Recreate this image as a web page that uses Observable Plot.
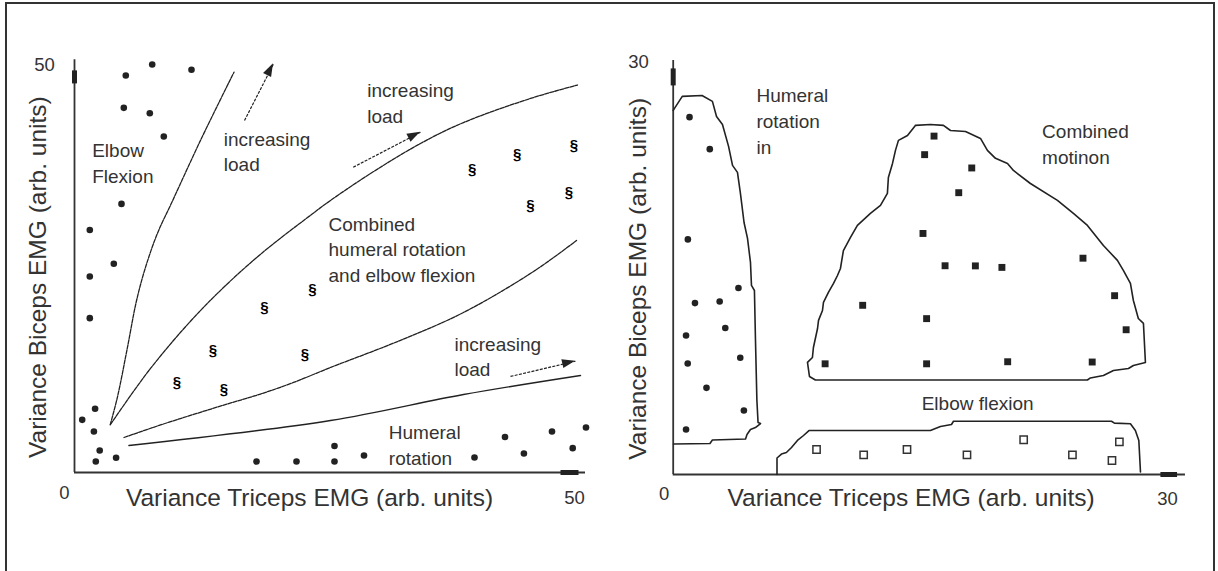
<!DOCTYPE html>
<html>
<head>
<meta charset="utf-8">
<script src="https://cdn.jsdelivr.net/npm/d3@7"></script>
<script src="https://cdn.jsdelivr.net/npm/@observablehq/plot@0.6"></script>
<style>
html, body { margin: 0; padding: 0; background: #fff; }
#wrap { position: relative; width: 1218px; height: 571px; overflow: hidden; background: #fff; }
#left { position: absolute; left: 0; top: 0; }
#right { position: absolute; left: 610px; top: 0; }
#frame { position: absolute; left: 5px; top: 2px; width: 1210px; height: 620px; border: 2.5px solid #333; box-sizing: border-box; pointer-events: none; }
</style>
</head>
<body>
<div id="wrap"><div id="left"></div><div id="right"></div><div id="frame"></div></div>
<script>
// ---------- LEFT PANEL DATA (arb. units, 0..50) ----------
const leftElbowFlexion = [[7.77,50.12],[11.7,49.47],[5.13,48.77],[4.93,44.8],[7.53,44.14],[8.93,41.28],[4.7,33.0],[1.53,29.8],[3.93,25.64],[1.53,24.08],[1.53,18.96]];
const leftLowLoad = [[0.77,6.47],[2.06,7.83],[1.94,5.04],[2.52,2.70],[2.13,1.35],[4.16,1.81]];
const leftHumeralRotation = [[18.2,1.35],[22.2,1.35],[26.0,3.26],[26.0,1.35],[28.95,2.09],[40.0,1.84],[43.05,4.36],[44.94,2.33],[47.75,5.04],[49.82,2.99],[51.15,5.53]];
const leftCombined = [[39.77,37.31],[44.27,39.15],[49.93,40.17],[45.6,32.8],[49.43,34.43],[19.0,20.3],[23.8,22.57],[13.85,14.99],[23.05,14.58],[10.25,11.14],[14.95,10.2]];

const boundaryElbow = [[3.57,5.86],[4.3,9.3],[5.3,15.4],[6.2,21.1],[7.1,25.2],[8.3,29.4],[9.7,33.1],[12.6,40.8],[15.95,49.18]];
const boundaryCombinedUpper = [[3.6,5.9],[7.6,12.78],[12.6,19.9],[18.1,26.29],[23.7,31.69],[25.6,33.42],[29.6,36.73],[34.6,40.42],[38.9,42.99],[45.6,45.95],[50.3,47.6]];
const boundaryCombinedLower = [[4.95,4.3],[8.6,5.84],[11.9,7.13],[15.3,8.42],[18.6,9.64],[21.9,11.06],[25.6,12.9],[32.3,16.09],[38.9,19.66],[45.9,24.69],[50.2,28.5]];
const boundaryHumeral = [[5.44,3.32],[25.6,6.39],[38.9,9.58],[50.6,11.92]];

const loadArrows = [
  {x1: 17.0, y1: 43.24, x2: 19.9, y2: 50.2},
  {x1: 27.87, y1: 37.5, x2: 34.6, y2: 41.8},
  {x1: 43.6, y1: 11.8, x2: 50.1, y2: 13.67}
];

const leftLabels = [
  {text: "Elbow\nFlexion", x: 1.77, y: 40.42},
  {text: "increasing\nload", x: 14.93, y: 41.83},
  {text: "increasing\nload", x: 29.27, y: 47.75},
  {text: "Combined\nhumeral rotation\nand elbow flexion", x: 25.4, y: 31.39},
  {text: "increasing\nload", x: 38.0, y: 16.62},
  {text: "Humeral\nrotation", x: 31.43, y: 5.77}
];

const leftXTicks = [50];
const leftYTicks = [50];
const leftOrigin = ["0"];
const leftAxisEnd = {x: 51.1, y: 50.7};
const leftAxisHead = {x: [48.6, 50.4], y: [47.8, 49.4]};
const leftXTitle = {text: "Variance Triceps EMG (arb. units)", x: 23.5};
const leftYTitle = {text: "Variance Biceps EMG (arb. units)", y: 24.0};

// ---------- RIGHT PANEL DATA (arb. units, 0..30) ----------
const rightHumeralIn = [[0.99,26.02],[2.22,23.69],[0.89,17.12],[3.96,13.58],[1.32,12.48],[2.82,12.6],[3.16,10.67],[0.78,10.12],[4.07,8.5],[0.88,8.08],[2.02,6.31],[4.29,4.66],[0.78,3.28]];
const rightCombined = [[15.83,24.64],[15.26,23.29],[18.12,22.32],[17.33,20.52],[15.16,17.55],[24.87,15.75],[16.5,15.2],[18.34,15.19],[19.95,15.08],[11.5,12.32],[15.38,11.35],[26.79,13.02],[27.49,10.54],[9.22,8.06],[15.38,8.06],[20.3,8.21],[25.43,8.19]];
const rightElbow = [[8.7,1.82],[11.56,1.43],[14.19,1.82],[17.83,1.43],[21.27,2.53],[24.23,1.43],[27.08,2.38],[26.63,1.02]];

const regionHumeralIn = [[0,26.51],[0.55,27.53],[1.75,27.60],[2.38,27.17],[2.63,26.07],[2.99,25.49],[3.36,23.89],[3.60,22.51],[3.90,22.0],[4.08,20.47],[4.30,18.35],[4.51,17.19],[4.69,15.44],[4.75,13.77],[4.93,13.40],[4.99,9.98],[5.08,5.39],[5.15,3.79],[5.30,3.71],[4.99,3.42],[4.69,3.28],[4.48,2.91],[4.39,2.59],[2.38,2.51],[2.23,2.26],[0.02,2.22]];
const regionCombined = [[14.70,25.42],[15.61,25.49],[16.40,25.42],[16.83,25.05],[17.74,24.98],[18.65,24.47],[19.07,23.60],[19.56,23.02],[20.29,22.65],[20.65,22.14],[21.68,21.19],[23.32,19.96],[24.29,19.01],[25.14,18.14],[26.11,16.68],[26.96,15.59],[27.32,14.86],[27.75,13.91],[27.93,12.67],[28.23,11.36],[28.54,11.00],[28.66,8.16],[27.93,7.94],[27.63,7.72],[26.72,7.57],[26.11,7.21],[25.32,7.03],[25.14,6.88],[8.63,6.88],[8.27,7.14],[8.15,8.16],[8.45,8.52],[8.51,9.25],[8.76,10.63],[8.82,11.22],[9.06,11.94],[9.12,12.53],[9.42,13.26],[9.73,13.91],[9.97,14.49],[10.15,15.0],[10.33,16.31],[10.76,17.26],[11.18,18.14],[11.97,19.01],[12.58,19.59],[13.00,20.47],[13.06,21.63],[13.31,22.65],[13.49,23.60],[13.67,24.33],[14.22,24.69],[14.70,25.42]];
const regionElbow = [[6.30,0],[6.30,1.20],[6.57,1.49],[6.87,1.60],[7.18,1.97],[7.54,2.48],[7.91,2.84],[8.24,3.20],[15.61,3.20],[16.22,3.50],[16.89,3.64],[17.01,3.88],[26.60,3.88],[26.78,3.74],[27.75,3.69],[28.05,3.20],[28.26,2.48],[28.36,0.18]];

const rightLabels = [
  {text: "Humeral\nrotation\nin", x: 5.05, y: 28.09},
  {text: "Combined\nmotinon", x: 22.39, y: 25.49},
  {text: "Elbow flexion", x: 15.08, y: 5.72}
];

const rightXTicks = [30];
const rightYTicks = [30];
const rightOrigin = ["0"];
const rightAxisEnd = {x: 31.09, y: 30.15};
const rightAxisHead = {x: [29.57, 30.58], y: [28.33, 29.57]};
const rightXTitle = {text: "Variance Triceps EMG (arb. units)", x: 14.44};
const rightYTitle = {text: "Variance Biceps EMG (arb. units)", y: 14.25};

// ---------- STYLE ----------
const font = '"Liberation Sans", Arial, Helvetica, sans-serif';
const ink = "#222";
const textInk = "#333";
const X = d => d[0], Y = d => d[1];

// filled arrowheads drawn with the plot's own scales
function arrowHeads(data, len, half) {
  return (index, scales) => {
    const ns = "http://www.w3.org/2000/svg";
    const g = document.createElementNS(ns, "g");
    for (const d of data) {
      const x1 = scales.x(d.x1), y1 = scales.y(d.y1), x2 = scales.x(d.x2), y2 = scales.y(d.y2);
      const a = Math.atan2(y2 - y1, x2 - x1);
      const bx = x2 - len * Math.cos(a), by = y2 - len * Math.sin(a);
      const px = -Math.sin(a) * half, py = Math.cos(a) * half;
      const p = document.createElementNS(ns, "path");
      p.setAttribute("d", `M${x2},${y2}L${bx + px},${by + py}L${bx - px},${by - py}Z`);
      p.setAttribute("fill", ink);
      g.appendChild(p);
    }
    return g;
  };
}

function axesMarks(end, head) {
  return [
    Plot.ruleX([0], {y1: 0, y2: end.y, stroke: "#333", strokeWidth: 1.8}),
    Plot.ruleY([0], {x1: 0, x2: end.x, stroke: "#333", strokeWidth: 1.8}),
    Plot.link([head], {x1: 0, x2: 0, y1: d => d.y[0], y2: d => d.y[1], stroke: "#222", strokeWidth: 5}),
    Plot.link([head], {y1: 0, y2: 0, x1: d => d.x[0], x2: d => d.x[1], stroke: "#222", strokeWidth: 5})
  ];
}

function textCommon(extra) {
  return Object.assign({fontFamily: font, fill: textInk}, extra);
}

// ---------- LEFT PLOT ----------
const leftPlot = Plot.plot({
  width: 610, height: 571,
  marginLeft: 74, marginRight: 36, marginTop: 65, marginBottom: 99,
  x: {domain: [0, 50], axis: null},
  y: {domain: [0, 50], axis: null},
  style: {background: "transparent", overflow: "visible"},
  marks: [
    ...axesMarks(leftAxisEnd, leftAxisHead),
    Plot.line(boundaryElbow, {x: X, y: Y, curve: "catmull-rom", stroke: ink, strokeWidth: 1.3, strokeDasharray: "4,1.2"}),
    Plot.line(boundaryCombinedUpper, {x: X, y: Y, curve: "catmull-rom", stroke: ink, strokeWidth: 1.3, strokeDasharray: "4,1.2"}),
    Plot.line(boundaryCombinedLower, {x: X, y: Y, curve: "catmull-rom", stroke: ink, strokeWidth: 1.3, strokeDasharray: "4,1.2"}),
    Plot.line(boundaryHumeral, {x: X, y: Y, curve: "catmull-rom", stroke: ink, strokeWidth: 1.4}),
    Plot.link(loadArrows, {x1: "x1", y1: "y1", x2: "x2", y2: "y2", stroke: ink, strokeWidth: 1.2, strokeDasharray: "3,1.3"}),
    arrowHeads(loadArrows, 13, 4.5),
    Plot.dot(leftElbowFlexion, {x: X, y: Y, r: 3.3, fill: ink, stroke: "none"}),
    Plot.dot(leftLowLoad, {x: X, y: Y, r: 3.3, fill: ink, stroke: "none"}),
    Plot.dot(leftHumeralRotation, {x: X, y: Y, r: 3.3, fill: ink, stroke: "none"}),
    Plot.text(leftCombined, {x: X, y: Y, text: () => "§", fontSize: 15, fontWeight: "bold", fill: "#000", fontFamily: font}),
    Plot.text(leftLabels, textCommon({x: "x", y: "y", text: "text", textAnchor: "start", lineAnchor: "top", lineHeight: 1.35, fontSize: 19, dy: -4.6})),
    Plot.text(leftOrigin, textCommon({x: 0, y: 0, text: d => d, lineAnchor: "top", fontSize: 18.5, dx: -10, dy: 13})),
    Plot.text(leftXTicks, textCommon({x: d => d, y: 0, text: d => String(d), lineAnchor: "top", fontSize: 18.5, dy: 18})),
    Plot.text(leftYTicks, textCommon({x: 0, y: d => d, text: d => String(d), lineAnchor: "middle", fontSize: 18.5, dx: -30})),
    Plot.text([leftXTitle], textCommon({x: "x", y: 0, text: "text", lineAnchor: "top", fontSize: 24.5, dy: 16})),
    Plot.text([leftYTitle], textCommon({x: 0, y: "y", text: "text", lineAnchor: "middle", rotate: -90, fontSize: 24.5, dx: -36}))
  ]
});
document.getElementById("left").appendChild(leftPlot);

// ---------- RIGHT PLOT ----------
const rightPlot = Plot.plot({
  width: 608, height: 571,
  marginLeft: 62.7, marginRight: 51, marginTop: 62, marginBottom: 97,
  x: {domain: [0, 30], axis: null},
  y: {domain: [0, 30], axis: null},
  style: {background: "transparent", overflow: "visible"},
  marks: [
    ...axesMarks(rightAxisEnd, rightAxisHead),
    Plot.line(regionHumeralIn, {x: X, y: Y, stroke: ink, strokeWidth: 1.6}),
    Plot.line(regionCombined, {x: X, y: Y, stroke: ink, strokeWidth: 1.6}),
    Plot.line(regionElbow, {x: X, y: Y, stroke: ink, strokeWidth: 1.6}),
    Plot.dot(rightHumeralIn, {x: X, y: Y, r: 3.3, fill: ink, stroke: "none"}),
    Plot.dot(rightCombined, {x: X, y: Y, r: 3.9, symbol: "square", fill: ink, stroke: "none"}),
    Plot.dot(rightElbow, {x: X, y: Y, r: 4.1, symbol: "square", fill: "white", stroke: "#333", strokeWidth: 1.5}),
    Plot.text(rightLabels, textCommon({x: "x", y: "y", text: "text", textAnchor: "start", lineAnchor: "top", lineHeight: 1.37, fontSize: 19, dy: -4.9})),
    Plot.text(rightOrigin, textCommon({x: 0, y: 0, text: d => d, lineAnchor: "top", fontSize: 18.5, dx: -9, dy: 12.7})),
    Plot.text(rightXTicks, textCommon({x: d => d, y: 0, text: d => String(d), lineAnchor: "top", fontSize: 18.5, dy: 17.7})),
    Plot.text(rightYTicks, textCommon({x: 0, y: d => d, text: d => String(d), lineAnchor: "middle", fontSize: 18.5, dx: -34.7})),
    Plot.text([rightXTitle], textCommon({x: "x", y: 0, text: "text", lineAnchor: "top", fontSize: 24.5, dy: 14})),
    Plot.text([rightYTitle], textCommon({x: 0, y: "y", text: "text", lineAnchor: "middle", rotate: -90, fontSize: 24.5, dx: -34.7}))
  ]
});
document.getElementById("right").appendChild(rightPlot);
</script>
</body>
</html>
